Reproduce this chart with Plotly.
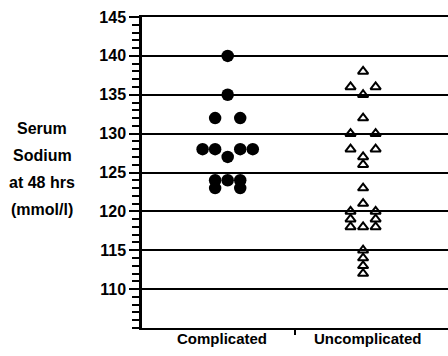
import plotly.graph_objects as go

# Data
groups = ["Complicated", "Uncomplicated"]
group_pos = [0.56, 1.445]
label_pos = [0.52, 1.475]

comp_vals = [140, 135, 132, 132, 128, 128, 128, 128, 127, 124, 124, 124, 123, 123]
comp_slot = [0, 0, -1, 1, -2, -1, 1, 2, 0, -1, 0, 1, -1, 1]

uncomp_vals = [138, 136, 136, 135, 132, 130, 130, 128, 128, 127, 126, 123, 121,
               120, 120, 119, 119, 118, 118, 118, 115, 114, 113, 112]
uncomp_slot = [0, -1, 1, 0, 0, -1, 1, -1, 1, 0, 0, 0, 0,
               -1, 1, -1, 1, -1, 0, 1, 0, 0, 0, 0]

y_ticks = [110, 115, 120, 125, 130, 135, 140, 145]
y_title_lines = ["Serum", "Sodium", "at 48 hrs", "(mmol/l)"]
slot_w = 0.082

W, H = 448, 356
L, R, T, B = 142, 0, 17, 28
PH = H - T - B

fig = go.Figure()
fig.add_trace(go.Scatter(
    x=[group_pos[0] + s * slot_w for s in comp_slot], y=comp_vals,
    mode="markers", marker=dict(symbol="circle", size=12.5, color="black"),
    showlegend=False, cliponaxis=False))
fig.add_trace(go.Scatter(
    x=[group_pos[1] + s * slot_w for s in uncomp_slot], y=uncomp_vals,
    mode="markers",
    marker=dict(symbol="triangle-up-open", size=9, color="black",
                line=dict(width=2, color="black")),
    showlegend=False))

bold = lambda s: dict(family="Liberation Sans", size=s, color="black", weight="bold")

fig.update_layout(
    width=W, height=H,
    margin=dict(l=L, r=R, t=T, b=B),
    paper_bgcolor="white", plot_bgcolor="white",
    xaxis=dict(range=[0, 2], tickvals=[1], ticktext=[""], ticks="outside",
               ticklen=5, tickwidth=1.5, tickcolor="black",
               showgrid=False, zeroline=False, showline=True, mirror=True,
               linecolor="black", linewidth=2),
    yaxis=dict(range=[105, 145], tickvals=y_ticks, ticks="outside",
               ticklen=10, tickwidth=2, tickcolor="black",
               tickfont=bold(16),
               showgrid=True, gridcolor="black", gridwidth=2,
               zeroline=False, showline=True, linecolor="black", linewidth=2.5,
               minor=dict(dtick=1, ticks="outside", ticklen=7,
                          tickwidth=1.5, tickcolor="black", showgrid=False)),
)

for g, lp in zip(groups, label_pos):
    fig.add_annotation(x=lp, y=0, xref="x", yref="paper", yshift=-21,
                       text=g, showarrow=False, font=bold(15))

for i, line in enumerate(y_title_lines):
    py = 128 + 27 * i
    fig.add_annotation(x=(42 - L) / (W - L - R), y=(H - B - py) / PH,
                       xref="x domain", yref="y domain",
                       text=line, showarrow=False, xanchor="center",
                       yanchor="middle", font=bold(16))

fig.write_html("out.html", config={"displayModeBar": False})

# remove default page margin so the figure sits at the window origin
with open("out.html", encoding="utf-8") as f:
    html = f.read()
html = html.replace("<body>", '<body style="margin:0;padding:0">', 1)
with open("out.html", "w", encoding="utf-8") as f:
    f.write(html)
